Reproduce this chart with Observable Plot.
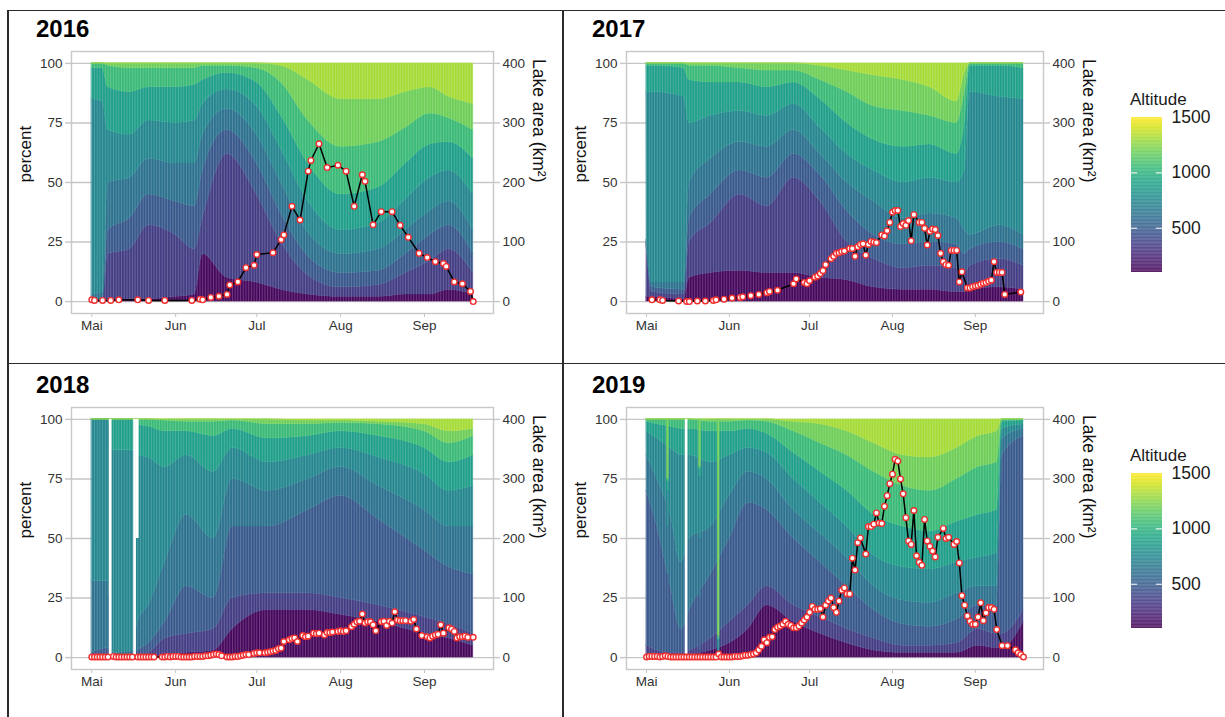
<!DOCTYPE html>
<html><head><meta charset="utf-8">
<script src="https://cdn.jsdelivr.net/npm/d3@7"></script>
<script src="https://cdn.jsdelivr.net/npm/@observablehq/plot@0.6"></script>
<style>
body{margin:0;background:#fff;font-family:"Liberation Sans",Arial,sans-serif;}
#root{position:relative;width:1225px;height:717px;overflow:hidden;background:#fff;}
.line{position:absolute;background:#2b2b2b;z-index:5;}
.title{position:absolute;font-weight:bold;font-size:24px;line-height:24px;color:#000;}
.panel{position:absolute;}
.legtitle{position:absolute;font-size:17px;line-height:17px;color:#1a1a1a;}
</style></head><body><div id="root"></div>
<script>
// ---------- categories / tick labels ----------
const altitudes = [130, 350, 480, 620, 740, 880, 1050, 1190, 1310];
const monthDates = ["05-01", "06-01", "07-01", "08-01", "09-01"];
const monthLabels = ["Mai", "Jun", "Jul", "Aug", "Sep"];
const percentTicks = [0, 25, 50, 75, 100];
const legendTicks = [500, 1000, 1500];

// ---------- 2016 ----------
const dates2016 = ["05-01","05-05","05-07","05-15","05-22","06-01","06-08","06-11","06-20","07-01","07-10","07-20","08-01","08-15","08-25","09-03","09-10","09-19"];
const bands2016 = [
[0,0,0,3,85,98,100,100],
[0,0,0,4,84,98,100,100],
[0,20,30,50,72,90,99,100],
[1,22,35,52,70,88,98,100],
[1,32,45,60,76,90,98,100],
[2,28,42,58,75,90,98,100],
[3,22,40,58,76,91,98,100],
[20,35,55,70,83,93,99,100],
[10,62,72,81,89,96,99,100],
[8,45,58,70,82,92,98,100],
[5,25,37,50,64,78,92,99],
[3,11,19,29,42,58,76,93],
[2,6,12,20,30,45,65,85],
[2,7,13,22,33,48,67,85],
[3,12,20,30,43,58,73,88],
[3,17,28,38,52,66,79,90],
[5,22,32,42,55,67,77,86],
[3,12,20,30,45,60,72,83]
];
const lake2016 = [["05-01",3],["05-02",2],["05-05",2],["05-08",2],["05-11",3],["05-18",3],["05-22",2],["05-28",2],["06-07",2],["06-10",4],["06-11",3],["06-14",7],["06-17",9],["06-20",12],["06-21",28],["06-24",33],["06-27",57],["06-30",61],["07-01",79],["07-07",82],["07-10",104],["07-11",112],["07-14",160],["07-17",137],["07-20",219],["07-21",237],["07-24",265],["07-27",225],["07-31",229],["08-03",219],["08-06",160],["08-09",213],["08-10",202],["08-13",129],["08-16",151],["08-20",151],["08-23",128],["08-26",108],["08-30",81],["09-02",74],["09-05",67],["09-08",64],["09-09",59],["09-12",33],["09-15",30],["09-18",17],["09-19",0]];

// ---------- 2017 ----------
const dates2017 = ["05-01","05-03","05-15","05-17","05-25","06-05","06-15","06-25","07-05","07-15","07-25","08-05","08-15","08-25","08-28","08-30","09-10","09-19"];
const bands2017 = [
[2,24,25,26,88,99,100,100],
[2,4,6,8,88,99,100,100],
[1,3,5,8,86,98,100,100],
[10,25,35,50,75,93,99,100],
[12,33,45,60,78,92,99,100],
[13,45,55,67,80,92,98,100],
[12,40,52,65,78,90,97,100],
[12,52,62,72,83,92,97,100],
[10,42,53,62,73,85,93,99],
[9,25,38,50,62,75,88,97],
[6,18,28,42,55,68,82,95],
[5,14,24,35,50,65,80,93],
[5,15,25,37,52,66,78,90],
[4,14,24,35,50,62,75,84],
[4,12,20,30,55,75,88,96],
[5,15,22,28,88,99,100,100],
[6,18,25,32,86,99,100,100],
[5,15,22,28,85,98,100,100]
];
const lake2017 = [["05-03",3],["05-06",3],["05-07",2],["05-13",1],["05-16",0],["05-17",0],["05-20",1],["05-23",1],["05-26",2],["05-27",3],["05-30",4],["06-02",6],["06-05",7],["06-06",8],["06-09",10],["06-12",12],["06-15",15],["06-16",17],["06-19",19],["06-25",30],["06-26",38],["06-29",32],["06-30",30],["07-01",35],["07-03",41],["07-04",43],["07-05",47],["07-06",52],["07-07",62],["07-09",72],["07-10",76],["07-11",81],["07-12",82],["07-13",84],["07-14",85],["07-16",89],["07-17",89],["07-18",76],["07-19",92],["07-20",96],["07-21",97],["07-22",78],["07-23",96],["07-24",101],["07-25",100],["07-26",99],["07-28",112],["07-29",110],["07-30",119],["07-31",133],["08-01",150],["08-02",153],["08-03",153],["08-04",126],["08-05",131],["08-06",128],["08-07",136],["08-08",102],["08-09",146],["08-11",133],["08-12",133],["08-13",123],["08-14",95],["08-15",118],["08-16",122],["08-17",121],["08-18",111],["08-19",81],["08-20",67],["08-21",62],["08-22",61],["08-23",86],["08-24",86],["08-25",86],["08-26",33],["08-27",50],["08-29",23],["08-30",23],["08-31",25],["09-01",26],["09-02",27],["09-03",29],["09-04",31],["09-05",32],["09-06",34],["09-07",36],["09-08",67],["09-09",49],["09-10",49],["09-11",49],["09-12",12],["09-18",16]];

// ---------- 2018 ----------
const dates2018 = ["05-01","05-07","05-09","05-16","05-18","05-22","05-28","06-05","06-15","06-22","07-05","07-20","08-01","08-15","09-01","09-10","09-19"];
const bands2018 = [
[0,0,2,32,100,100,100,100],
[0,1,4,32,100,100,100,100],
[0,0,0,2,87,100,100,100],
[0,0,1,3,87,100,100,100],
[0,1,3,15,85,98,100,100],
[0,2,6,22,84,97,100,100],
[1,8,15,40,80,95,99.5,100],
[2,10,30,60,85,95,99,100],
[3,12,25,50,78,93,99,100],
[12,25,55,75,88,96,99.5,100],
[20,27,55,70,82,92,98,100],
[20,27,62,75,85,93,98,99.5],
[18,25,68,80,88,95,98.5,99.5],
[15,22,58,72,84,93,98,99],
[10,17,45,62,77,88,95,98],
[8,14,38,55,70,82,90,95],
[5,10,35,55,72,85,93,96]
];
const missing2018 = [["05-08",0],["05-17",0],["05-18",50]];
const lake2018 = [["05-01",1],["05-02",1],["05-03",1],["05-04",1],["05-05",1],["05-06",1],["05-07",1],["05-09",2],["05-10",1],["05-11",1],["05-12",1],["05-13",1],["05-14",1],["05-15",1],["05-16",1],["05-18",1],["05-19",1],["05-20",1],["05-21",1],["05-22",1],["05-23",1],["05-24",1],["05-27",1],["05-28",1],["05-29",2],["05-30",1],["05-31",2],["06-01",2],["06-02",2],["06-03",1],["06-04",1],["06-05",1],["06-06",1],["06-07",1],["06-08",2],["06-09",2],["06-10",2],["06-11",2],["06-12",3],["06-13",3],["06-14",4],["06-15",5],["06-16",6],["06-17",5],["06-18",3],["06-20",1],["06-21",1],["06-22",1],["06-23",2],["06-24",2],["06-25",3],["06-26",4],["06-27",5],["06-28",5],["06-30",7],["07-01",8],["07-02",8],["07-04",8],["07-05",9],["07-06",10],["07-07",11],["07-08",12],["07-09",15],["07-10",16],["07-11",27],["07-13",30],["07-14",32],["07-15",33],["07-16",27],["07-18",37],["07-19",35],["07-20",36],["07-22",41],["07-23",40],["07-24",41],["07-26",38],["07-27",42],["07-28",42],["07-29",43],["07-31",44],["08-01",45],["08-02",44],["08-03",45],["08-05",52],["08-06",56],["08-07",60],["08-08",61],["08-09",73],["08-10",58],["08-11",60],["08-12",60],["08-13",55],["08-14",45],["08-16",60],["08-17",61],["08-18",54],["08-19",61],["08-20",58],["08-21",77],["08-22",63],["08-23",62],["08-24",62],["08-25",62],["08-27",61],["08-28",64],["08-29",48],["08-31",37],["09-02",35],["09-03",33],["09-04",36],["09-05",38],["09-06",39],["09-07",55],["09-08",41],["09-10",50],["09-11",48],["09-12",44],["09-13",33],["09-14",35],["09-15",35],["09-16",36],["09-17",34],["09-19",34]];

// ---------- 2019 ----------
const dates2019 = ["05-01","05-05","05-10","05-14","05-17","05-25","06-01","06-08","06-15","06-25","07-05","07-15","07-25","08-05","08-15","08-25","09-02","09-09","09-11","09-19"];
const bands2019 = [
[0,5,70,85,95,99,100,100],
[0,3,55,75,92,98,100,100],
[0,2,30,60,88,97,100,100],
[0,2,12,40,85,96,100,100],
[1,3,20,50,85,96,100,100],
[3,8,35,55,82,95,99,100],
[6,15,50,68,85,95,99,100],
[12,22,65,78,88,96,99.5,100],
[22,30,62,75,86,94,99,100],
[15,22,50,62,75,86,95,99],
[10,17,40,52,65,78,90,98],
[6,12,30,42,55,70,85,95],
[3,8,20,30,43,60,78,90],
[2,5,14,24,38,55,72,85],
[2,5,13,23,37,53,70,84],
[2,6,16,27,40,57,75,88],
[5,12,22,30,42,60,80,93],
[4,10,21,30,44,62,82,95],
[4,10,85,92,96,99,100,100],
[15,20,93,96,98,99.5,100,100]
];
const special2019 = [["05-09",[0,2,35,55,70,74,75,100]],["05-21",[1,3,25,50,76,79,80,100]],["05-28",[0,0,1,2,7,8,9,100]]];
const missing2019 = [["05-16",0]];
const lake2019 = [["05-01",1],["05-02",2],["05-03",2],["05-04",2],["05-05",2],["05-06",1],["05-07",2],["05-08",3],["05-09",2],["05-10",1],["05-11",1],["05-12",1],["05-13",1],["05-14",1],["05-15",1],["05-16",1],["05-17",1],["05-18",1],["05-19",1],["05-20",1],["05-21",1],["05-22",1],["05-23",1],["05-24",1],["05-25",1],["05-26",1],["05-27",1],["05-28",6],["05-29",1],["05-30",1],["05-31",1],["06-01",1],["06-02",1],["06-03",2],["06-04",2],["06-05",2],["06-06",3],["06-07",4],["06-08",4],["06-09",5],["06-10",6],["06-11",8],["06-12",13],["06-13",19],["06-14",30],["06-15",25],["06-16",34],["06-17",35],["06-18",47],["06-19",51],["06-20",53],["06-21",56],["06-22",61],["06-23",56],["06-24",54],["06-25",50],["06-26",50],["06-27",53],["06-28",58],["06-29",63],["06-30",68],["07-01",76],["07-02",86],["07-03",81],["07-04",81],["07-05",82],["07-06",68],["07-07",88],["07-08",95],["07-09",100],["07-10",84],["07-11",76],["07-12",95],["07-13",113],["07-14",117],["07-15",107],["07-16",107],["07-17",167],["07-18",147],["07-19",193],["07-20",201],["07-22",174],["07-23",220],["07-24",220],["07-25",224],["07-26",243],["07-27",226],["07-28",225],["07-29",254],["07-30",272],["07-31",292],["08-01",308],["08-02",333],["08-03",330],["08-04",300],["08-05",275],["08-06",235],["08-07",196],["08-08",190],["08-09",247],["08-10",171],["08-11",160],["08-12",155],["08-13",232],["08-14",196],["08-15",187],["08-16",179],["08-17",169],["08-18",202],["08-20",217],["08-21",200],["08-22",202],["08-24",190],["08-25",195],["08-26",159],["08-27",104],["08-28",88],["08-29",70],["08-30",61],["08-31",56],["09-01",56],["09-02",68],["09-03",92],["09-04",62],["09-05",75],["09-06",84],["09-07",84],["09-08",81],["09-09",47],["09-11",20],["09-13",20],["09-16",13],["09-17",8],["09-18",5],["09-19",1]];

// ---------- build ----------
const FONT = '"Liberation Sans", Arial, sans-serif';
const DAY = 864e5;
const colorScale = {type: "linear", scheme: "viridis", domain: [100, 1500]};

function panel({year, dates, bands, lake, missing = [], special = [], width, marginLeft, marginRight}) {
  const P = md => new Date(`${year}-${md}T00:00:00Z`);
  const rows = [];
  dates.forEach((md, i) => {
    const b = [0, ...bands[i], 100];
    altitudes.forEach((alt, k) => rows.push({date: P(md), alt, y1: b[k], y2: b[k + 1]}));
  });
  const specRows = [];
  special.forEach(([md, bd]) => {
    const b = [0, ...bd, 100];
    altitudes.forEach((alt, k) => specRows.push({date: P(md), alt, y1: b[k], y2: b[k + 1]}));
  });
  const missRows = missing.map(([md, from]) => ({date: P(md), from}));
  const lakeRows = lake.map(([md, area]) => ({date: P(md), area}));
  const start = P(dates[0]), end = P(dates[dates.length - 1]);
  const days = d3.utcDay.range(start, d3.utcDay.offset(end, 1));
  const origin = P("05-01");
  const half = 0.45 * DAY;
  return Plot.plot({
    width, height: 305, marginLeft, marginRight, marginTop: 11, marginBottom: 32,
    style: {background: "transparent", fontFamily: FONT, fontSize: "13.5px", color: "#333", overflow: "visible"},
    x: {type: "utc", domain: [new Date(+origin - 7.5 * DAY), new Date(+origin + 148.5 * DAY)]},
    y: {domain: [-5, 105]},
    color: colorScale,
    marks: [
      Plot.ruleY(percentTicks, {stroke: "#c6c6c6", strokeWidth: 1.4}),
      Plot.area(rows, {x1: "date", y1: "y1", y2: "y2", z: "alt", fill: "alt", stroke: "alt", strokeWidth: 0.5, curve: "monotone-x"}),
      Plot.rect(specRows, {x1: d => new Date(+d.date - half), x2: d => new Date(+d.date + half), y1: "y1", y2: "y2", fill: "alt"}),
      Plot.ruleX(days, {y1: 0, y2: 100, stroke: "white", strokeOpacity: 0.3, strokeWidth: 0.7}),
      Plot.rect(missRows, {x1: d => new Date(+d.date - 0.5 * DAY), x2: d => new Date(+d.date + 0.5 * DAY), y1: "from", y2: 100, fill: "white"}),
      Plot.frame({stroke: "#c8c8c8", strokeWidth: 1.4}),
      Plot.axisY({ticks: percentTicks, tickSize: 6, tickPadding: 3, stroke: "#c6c6c6", strokeWidth: 1.4, fill: "#333", label: null}),
      Plot.axisY({anchor: "right", ticks: percentTicks, tickFormat: d => String(d * 4), tickSize: 6, tickPadding: 3, stroke: "#c6c6c6", strokeWidth: 1.4, fill: "#333", label: null}),
      Plot.axisX({ticks: monthDates.map(P), tickFormat: d => monthLabels[d.getUTCMonth() - 4], tickSize: 4, tickPadding: 3, stroke: "#c6c6c6", fill: "#333", label: null}),
      Plot.text(["percent"], {frameAnchor: "left", rotate: -90, dx: -46, fontSize: 17, fill: "#111"}),
      Plot.text(["Lake area (km²)"], {frameAnchor: "right", rotate: 90, dx: 45, fontSize: 17.5, fill: "#111"}),
      Plot.line(lakeRows, {x: "date", y: d => d.area / 4, stroke: "black", strokeWidth: 1.5}),
      Plot.dot(lakeRows, {x: "date", y: d => d.area / 4, r: 2.8, fill: "white", stroke: "#f03030", strokeWidth: 1.4})
    ]
  });
}

function colorbar() {
  const step = 7;
  const levels = d3.range(100, 1500, step);
  return Plot.plot({
    width: 100, height: 165, marginTop: 5, marginBottom: 5, marginLeft: 0, marginRight: 69,
    style: {background: "transparent", fontFamily: FONT, fontSize: "17.5px", color: "#1a1a1a", overflow: "visible"},
    x: {domain: [0, 1], axis: null},
    y: {domain: [100, 1500]},
    color: colorScale,
    marks: [
      Plot.rect(levels, {x1: 0, x2: 1, y1: d => d, y2: d => Math.min(d + step + 0.5, 1500), fill: d => d + step / 2}),
      Plot.ruleY([500, 1000], {x1: 0, x2: 0.2, stroke: "white", strokeWidth: 1}),
      Plot.ruleY([500, 1000], {x1: 0.8, x2: 1, stroke: "white", strokeWidth: 1}),
      Plot.axisY({anchor: "right", ticks: legendTicks, tickFormat: d => String(d), tickSize: 0, tickPadding: 9, fill: "#1a1a1a", label: null})
    ]
  });
}

const root = document.getElementById("root");
function place(el, left, top, w) {
  const d = document.createElement("div");
  d.className = "panel";
  d.style.left = left + "px"; d.style.top = top + "px";
  if (w) d.style.width = w + "px";
  d.appendChild(el);
  root.appendChild(d);
}
function addDiv(cls, text, left, top) {
  const d = document.createElement("div");
  d.className = cls; d.textContent = text;
  d.style.left = left + "px"; d.style.top = top + "px";
  root.appendChild(d);
}
function addLine(left, top, w, h) {
  const d = document.createElement("div");
  d.className = "line";
  Object.assign(d.style, {left: left + "px", top: top + "px", width: w + "px", height: h + "px"});
  root.appendChild(d);
}

place(panel({year: 2016, dates: dates2016, bands: bands2016, lake: lake2016, width: 554, marginLeft: 62, marginRight: 70}), 8.5, 40, 554);
place(panel({year: 2017, dates: dates2017, bands: bands2017, lake: lake2017, width: 661, marginLeft: 62, marginRight: 182}), 564, 40, 661);
place(panel({year: 2018, dates: dates2018, bands: bands2018, lake: lake2018, missing: missing2018, width: 554, marginLeft: 62, marginRight: 70}), 8.5, 396, 554);
place(panel({year: 2019, dates: dates2019, bands: bands2019, lake: lake2019, missing: missing2019, special: special2019, width: 661, marginLeft: 62, marginRight: 182}), 564, 396, 661);

place(colorbar(), 1131, 112, 100);
place(colorbar(), 1131, 468, 100);
addDiv("legtitle", "Altitude", 1130, 91);
addDiv("legtitle", "Altitude", 1130, 447);

addDiv("title", "2016", 36, 17);
addDiv("title", "2017", 592, 17);
addDiv("title", "2018", 36, 373);
addDiv("title", "2019", 592, 373);

addLine(7, 9.5, 1218, 1.6);
addLine(7, 9.5, 1.6, 708);
addLine(562, 9.5, 1.6, 708);
addLine(7, 362.5, 1218, 1.6);
</script></body></html>
